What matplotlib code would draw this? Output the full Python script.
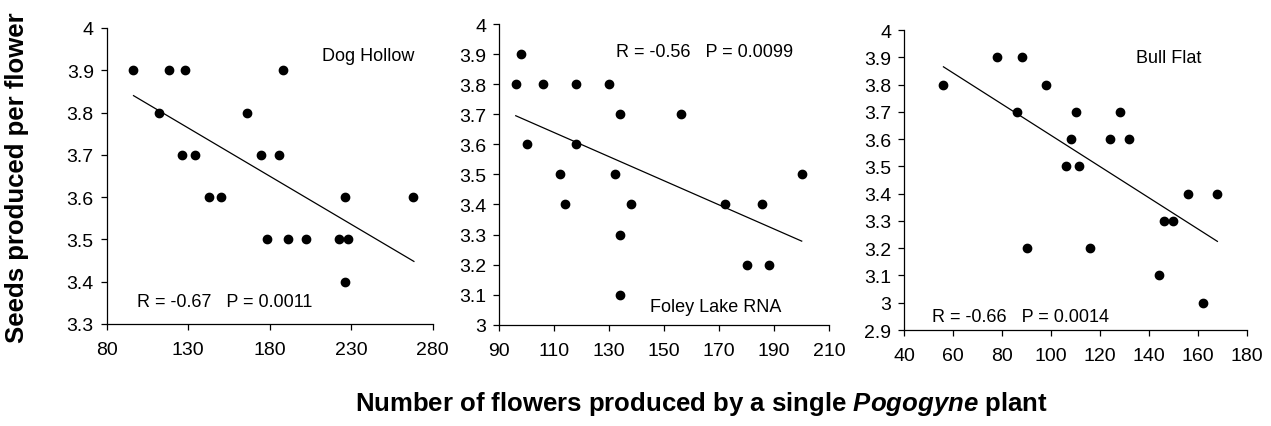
import matplotlib
matplotlib.use("Agg")
import matplotlib.pyplot as plt
import numpy as np

plt.rcParams['font.family'] = ['Liberation Sans', 'DejaVu Sans']
plt.rcParams['mathtext.fontset'] = 'custom'
plt.rcParams['mathtext.it'] = 'Liberation Sans:italic:bold'

# Dog Hollow
dog_x = [96, 118, 128, 188, 112, 166, 126, 134, 174.5, 185.5, 142.5, 150, 226, 268,
         178.5, 191.5, 202, 222.5, 228, 226]
dog_y = [3.9, 3.9, 3.9, 3.9, 3.8, 3.8, 3.7, 3.7, 3.7, 3.7, 3.6, 3.6, 3.6, 3.6,
         3.5, 3.5, 3.5, 3.5, 3.5, 3.4]
dog_fit_x = [96.5, 268.5]
dog_fit_y = [3.84, 3.448]

# Foley Lake RNA
foley_x = [96, 98, 106, 118, 130, 134, 156, 100, 118, 112, 132, 200, 114, 138,
           172, 185.5, 134, 180, 188, 134]
foley_y = [3.8, 3.9, 3.8, 3.8, 3.8, 3.7, 3.7, 3.6, 3.6, 3.5, 3.5, 3.5, 3.4, 3.4,
           3.4, 3.4, 3.3, 3.2, 3.2, 3.1]
foley_fit_x = [96, 200]
foley_fit_y = [3.695, 3.278]

# Bull Flat
bull_x = [56, 78, 88, 98, 86, 110, 128, 108, 124, 132, 106, 111.5, 156, 168,
          146, 150, 90, 116, 144, 162]
bull_y = [3.8, 3.9, 3.9, 3.8, 3.7, 3.7, 3.7, 3.6, 3.6, 3.6, 3.5, 3.5, 3.4, 3.4,
          3.3, 3.3, 3.2, 3.2, 3.1, 3.0]
bull_fit_x = [56, 168]
bull_fit_y = [3.865, 3.225]

panels = [
    dict(x=dog_x, y=dog_y, fx=dog_fit_x, fy=dog_fit_y,
         xlim=(80, 280), xt=np.arange(80, 281, 50), ylim=(3.3, 4.0),
         yt=[3.3, 3.4, 3.5, 3.6, 3.7, 3.8, 3.9, 4.0],
         pos=[0.0839, 0.2389, 0.2565, 0.6932],
         site="Dog Hollow", site_xy=(212, 3.936),
         stat="R = -0.67   P = 0.0011", stat_xy=(98.6, 3.354)),
    dict(x=foley_x, y=foley_y, fx=foley_fit_x, fy=foley_fit_y,
         xlim=(90, 210), xt=np.arange(90, 211, 20), ylim=(3.0, 4.0),
         yt=[3.0, 3.1, 3.2, 3.3, 3.4, 3.5, 3.6, 3.7, 3.8, 3.9, 4.0],
         pos=[0.3928, 0.2372, 0.2596, 0.7042],
         site="Foley Lake RNA", site_xy=(144.8, 3.062),
         stat="R = -0.56   P = 0.0099", stat_xy=(132.4, 3.907)),
    dict(x=bull_x, y=bull_y, fx=bull_fit_x, fy=bull_fit_y,
         xlim=(40, 180), xt=np.arange(40, 181, 20), ylim=(2.9, 4.0),
         yt=[2.9, 3.0, 3.1, 3.2, 3.3, 3.4, 3.5, 3.6, 3.7, 3.8, 3.9, 4.0],
         pos=[0.7115, 0.2248, 0.2694, 0.7026],
         site="Bull Flat", site_xy=(134.7, 3.901),
         stat="R = -0.66   P = 0.0014", stat_xy=(51.2, 2.948)),
]

fig = plt.figure(figsize=(12.71, 4.27), dpi=100)

for p in panels:
    ax = fig.add_axes(p['pos'])
    ax.plot(p['x'], p['y'], 'o', color='black', ms=6, clip_on=False)
    ax.plot(p['fx'], p['fy'], '-', color='black', lw=0.9)
    ax.set_xlim(*p['xlim'])
    ax.set_ylim(*p['ylim'])
    ax.set_xticks(p['xt'])
    ax.set_yticks(p['yt'])
    ax.set_yticklabels(['%g' % v for v in p['yt']])
    for s in ['top', 'right']:
        ax.spines[s].set_visible(False)
    for s in ['left', 'bottom']:
        ax.spines[s].set_linewidth(0.9)
    ax.tick_params(direction='out', length=4.3, width=0.9, labelsize=14)
    ax.tick_params(axis='x', pad=8)
    ax.tick_params(axis='y', pad=5)
    ax.text(*p['site_xy'], p['site'], fontsize=13, va='center', ha='left')
    ax.text(*p['stat_xy'], p['stat'], fontsize=13, va='center', ha='left')

fig.text(0.0135, 0.585, "Seeds produced per flower", rotation=90, fontsize=18.5,
         fontweight='bold', ha='center', va='center')
fig.text(0.5515, 0.054, "Number of flowers produced by a single $\\mathit{Pogogyne}$ plant",
         fontsize=18.5, fontweight='bold', ha='center', va='center')

fig.savefig("out.png", dpi=100)
